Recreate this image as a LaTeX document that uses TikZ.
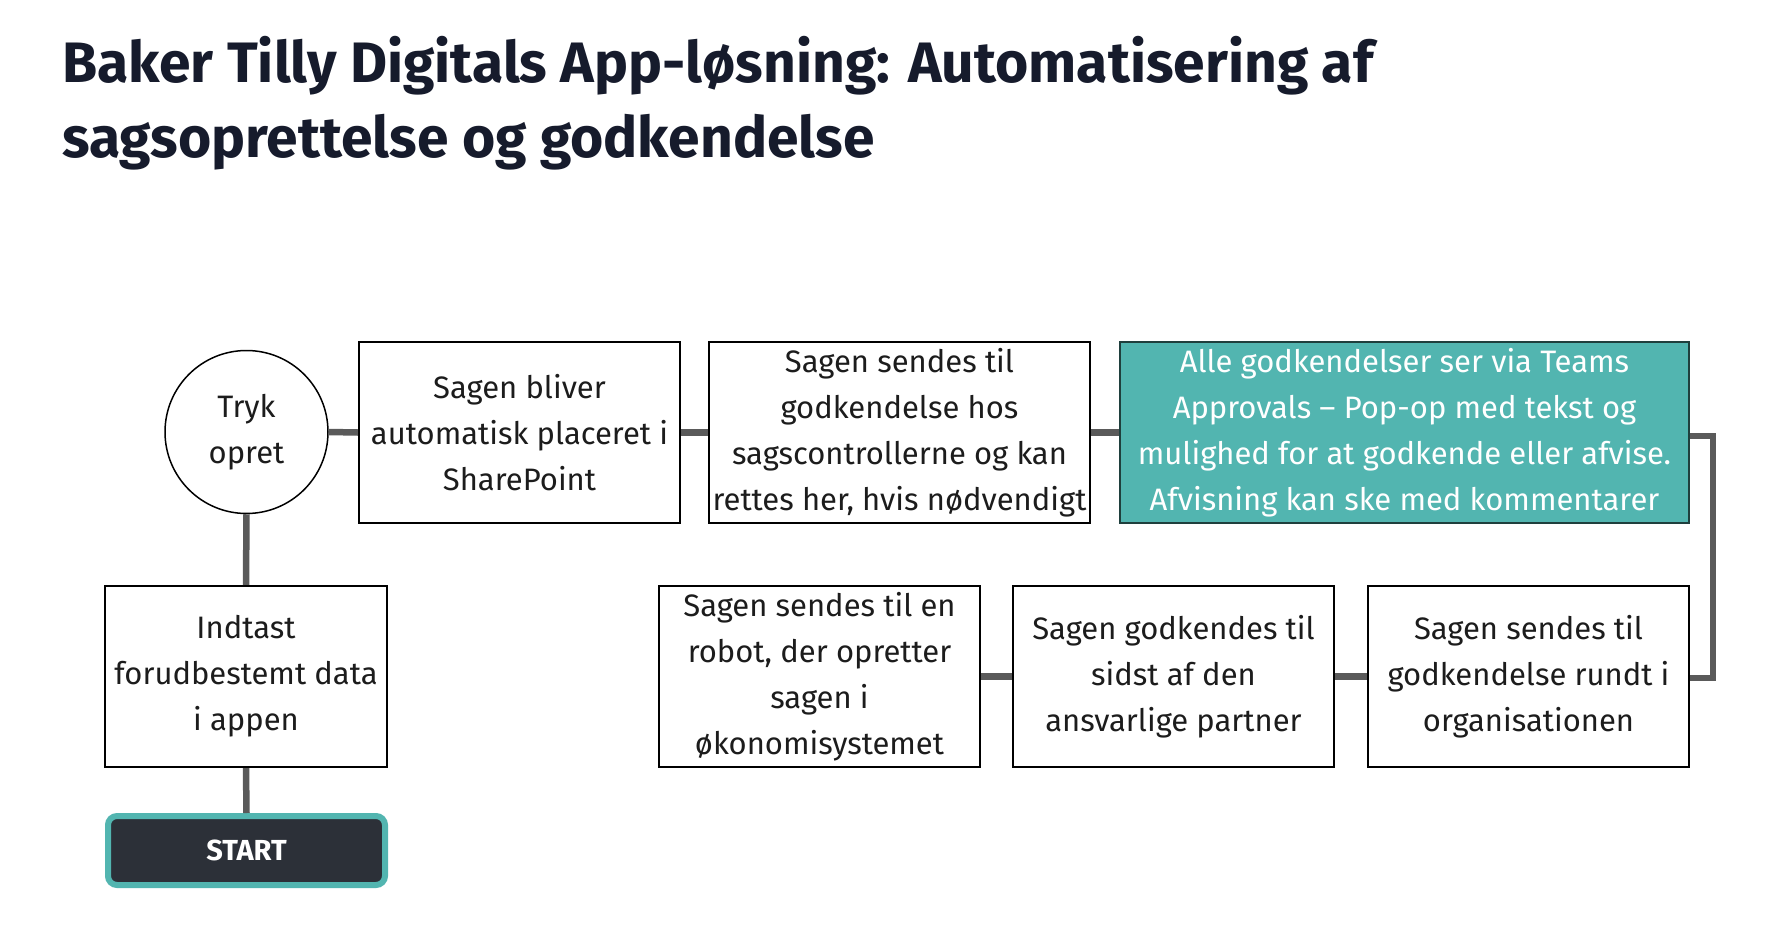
\documentclass[tikz,border=0pt]{standalone}
\usepackage{fontspec}
\setmainfont{Fira Sans}
\newfontfamily\titlefont{Fira Sans}
\usetikzlibrary{positioning}
\definecolor{navy}{HTML}{161B2C}
\definecolor{teal}{HTML}{52B5B0}
\definecolor{tealdark}{HTML}{1F3F3D}
\definecolor{conn}{HTML}{5A5A5A}
\definecolor{txt}{HTML}{1C1C1C}
\definecolor{startbg}{HTML}{2C3038}
\tikzset{
  titletext/.style={anchor=base west, inner sep=0, text=navy,
    font=\titlefont\bfseries\fontsize{57}{64}\selectfont},
  bodyfont/.style={font=\fontsize{31}{46}\selectfont},
  stepbox/.style={draw=black, line width=2.2pt, fill=white, text=txt,
    minimum height=181pt, inner sep=0pt, align=center, bodyfont},
  tealbox/.style={stepbox, draw=tealdark, fill=teal, text=white},
  circlenode/.style={circle, draw=black, line width=1.5pt, fill=white,
    minimum size=163pt, inner sep=0pt, align=center, text=txt, bodyfont},
  startbox/.style={draw=teal, line width=6pt, fill=startbg, rounded corners=9pt,
    minimum width=277pt, minimum height=69pt, inner sep=0pt, text=white,
    font=\bfseries\fontsize{29}{32}\selectfont},
  link/.style={draw=conn, line width=6.5pt}
}
\begin{document}
\begin{tikzpicture}[x=1pt,y=-1pt]
\useasboundingbox (0,0) rectangle (1770,942);
\fill[white] (0,0) rectangle (1770,942);

\node[titletext] (t1) at (62,82) {Baker Tilly Digitals App-løsning: Automatisering af};
\node[titletext] (t2) at (62,157) {sagsoprettelse og godkendelse};

\node[circlenode] (c) at (246.5,432) {Tryk\\opret};
\node[stepbox, minimum width=321pt] (b1) at (519.5,432.5) {Sagen bliver\\automatisk placeret i\\SharePoint};
\node[stepbox, minimum width=381pt] (b2) at (899.5,432.5) {Sagen sendes til\\godkendelse hos\\sagscontrollerne og kan\\rettes her, hvis nødvendigt};
\node[tealbox, minimum width=569pt] (b3) at (1404.5,432.5) {Alle godkendelser ser via Teams\\Approvals – Pop-op med tekst og\\mulighed for at godkende eller afvise.\\Afvisning kan ske med kommentarer};

\node[stepbox, minimum width=282pt] (b4) at (246,676.5) {Indtast\\forudbestemt data\\i appen};
\node[stepbox, minimum width=321pt] (b5) at (819.5,676.5) {Sagen sendes til en\\robot, der opretter\\sagen i\\økonomisystemet};
\node[stepbox, minimum width=321pt] (b6) at (1173.5,676.5) {Sagen godkendes til\\sidst af den\\ansvarlige partner};
\node[stepbox, minimum width=321pt] (b7) at (1528.5,676.5) {Sagen sendes til\\godkendelse rundt i\\organisationen};

\node[startbox] (s) at (246.5,850.5) {START};

\coordinate (r1) at (1713,436);
\coordinate (r2) at (1713,678);

\draw[link] (c.south) -- (b4.north);
\draw[link] (b4.south) -- (s.north);
\draw[link] (c.east) -- (b1.west);
\draw[link] (b1.east) -- (b2.west);
\draw[link] (b2.east) -- (b3.west);
\draw[link] (b3.east |- r1) -- (r1) -- (r2) -- (b7.east |- r2);
\draw[link] (b7.west) -- (b6.east);
\draw[link] (b6.west) -- (b5.east);
\end{tikzpicture}
\end{document}
